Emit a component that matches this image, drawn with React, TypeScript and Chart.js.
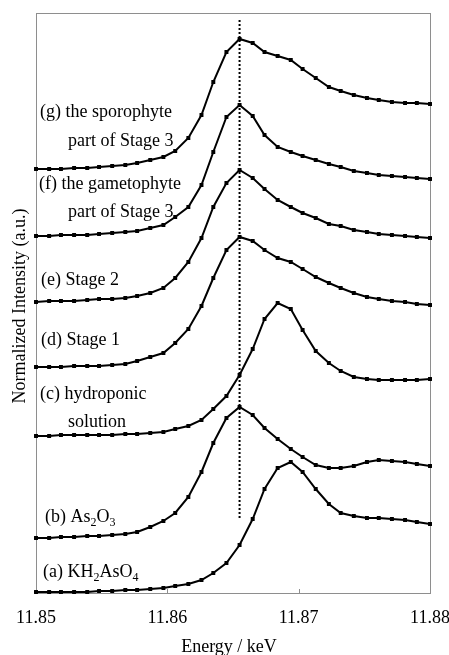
import React, { useEffect, useRef } from "react";
import { Chart, registerables } from "chart.js";

Chart.register(...registerables);

// Energy axis (keV), one value per measured point
const energies = [
  11.85, 11.851, 11.8519, 11.8529, 11.8539, 11.8548, 11.8558, 11.8568,
  11.8577, 11.8587, 11.8597, 11.8606, 11.8616, 11.8626, 11.8635, 11.8645,
  11.8655, 11.8665, 11.8674, 11.8684, 11.8694, 11.8703, 11.8713, 11.8723,
  11.8732, 11.8742, 11.8752, 11.8761, 11.8771, 11.8781, 11.879, 11.88,
];

// Normalized intensities (stacked, offset included)
const seriesA = [0.01, 0.01, 0.01, 0.01, 0.01, 0.02, 0.02, 0.03, 0.03, 0.04, 0.05, 0.07, 0.09, 0.13, 0.2, 0.3, 0.48, 0.74, 1.04, 1.25, 1.31, 1.21, 1.04, 0.89, 0.8, 0.77, 0.75, 0.75, 0.74, 0.73, 0.71, 0.69];
const seriesB = [0.55, 0.55, 0.56, 0.56, 0.57, 0.57, 0.58, 0.59, 0.61, 0.66, 0.72, 0.8, 0.96, 1.21, 1.5, 1.75, 1.86, 1.78, 1.65, 1.54, 1.44, 1.36, 1.28, 1.25, 1.25, 1.27, 1.31, 1.33, 1.32, 1.31, 1.29, 1.27];
const seriesC = [1.57, 1.57, 1.58, 1.58, 1.58, 1.58, 1.58, 1.59, 1.59, 1.6, 1.61, 1.64, 1.67, 1.73, 1.84, 1.97, 2.18, 2.44, 2.74, 2.9, 2.84, 2.63, 2.42, 2.3, 2.22, 2.16, 2.14, 2.13, 2.13, 2.13, 2.13, 2.14];
const seriesD = [2.26, 2.26, 2.26, 2.27, 2.27, 2.27, 2.28, 2.29, 2.32, 2.36, 2.4, 2.5, 2.64, 2.87, 3.15, 3.43, 3.56, 3.52, 3.43, 3.35, 3.31, 3.24, 3.16, 3.1, 3.05, 3.0, 2.96, 2.94, 2.92, 2.91, 2.89, 2.88];
const seriesE = [2.91, 2.92, 2.92, 2.92, 2.93, 2.94, 2.94, 2.95, 2.97, 3.0, 3.05, 3.15, 3.31, 3.55, 3.86, 4.1, 4.23, 4.15, 4.04, 3.93, 3.86, 3.8, 3.75, 3.69, 3.67, 3.63, 3.61, 3.59, 3.58, 3.57, 3.56, 3.55];
const seriesF = [3.57, 3.57, 3.58, 3.58, 3.58, 3.59, 3.6, 3.61, 3.62, 3.65, 3.68, 3.76, 3.86, 4.08, 4.41, 4.76, 4.88, 4.77, 4.58, 4.46, 4.41, 4.37, 4.33, 4.29, 4.26, 4.22, 4.2, 4.18, 4.17, 4.16, 4.15, 4.14];
const seriesG = [4.24, 4.24, 4.24, 4.25, 4.25, 4.26, 4.27, 4.28, 4.3, 4.33, 4.36, 4.42, 4.55, 4.78, 5.11, 5.41, 5.54, 5.5, 5.41, 5.37, 5.33, 5.24, 5.15, 5.06, 5.02, 4.98, 4.95, 4.93, 4.91, 4.9, 4.9, 4.89];

const allSeries = [seriesA, seriesB, seriesC, seriesD, seriesE, seriesF, seriesG];

// Reference energy (dotted vertical line)
const refEnergy = 11.8655;
const refRange = [0.75, 5.75];

const xTicks = [11.85, 11.86, 11.87, 11.88];
const xMin = 11.85;
const xMax = 11.88;
const yMin = 0;
const yMax = 5.8;

const xTitle = "Energy / keV";
const yTitle = "Normalized Intensity (a.u.)";

// Series labels: segments [text, isSubscript], anchor in data units (left, baseline)
type Seg = [string, boolean];
const seriesLabels: { segs: Seg[]; x: number; y: number }[] = [
  { segs: [["(g) the sporophyte", false]], x: 11.8503, y: 4.763 },
  { segs: [["part of Stage 3", false]], x: 11.85244, y: 4.47 },
  { segs: [["(f) the gametophyte", false]], x: 11.85023, y: 4.04 },
  { segs: [["part of Stage 3", false]], x: 11.85244, y: 3.76 },
  { segs: [["(e) Stage 2", false]], x: 11.85038, y: 3.08 },
  { segs: [["(d) Stage 1", false]], x: 11.85038, y: 2.48 },
  { segs: [["(c) hydroponic", false]], x: 11.8503, y: 1.94 },
  { segs: [["solution", false]], x: 11.85244, y: 1.663 },
  { segs: [["(b) As", false], ["2", true], ["O", false], ["3", true]], x: 11.85069, y: 0.713 },
  { segs: [["(a) KH", false], ["2", true], ["AsO", false], ["4", true]], x: 11.85053, y: 0.157 },
];

const FONT = "'Liberation Serif', 'Times New Roman', Times, serif";

const overlayPlugin = {
  id: "overlay",
  beforeDatasetsDraw(chart: any) {
    const { ctx, chartArea: ca, scales } = chart;
    ctx.save();
    ctx.strokeStyle = "#8e8e8e";
    ctx.lineWidth = 1;
    ctx.strokeRect(Math.round(ca.left) + 0.5, Math.round(ca.top) + 0.5, Math.round(ca.right - ca.left), Math.round(ca.bottom - ca.top));
    // inward tick marks
    xTicks.forEach((t) => {
      const px = Math.round(scales.x.getPixelForValue(t)) + 0.5;
      ctx.beginPath();
      ctx.moveTo(px, ca.bottom);
      ctx.lineTo(px, ca.bottom - 4);
      ctx.stroke();
    });
    ctx.restore();
  },
  afterDraw(chart: any) {
    const { ctx, chartArea: ca, scales } = chart;
    ctx.save();
    ctx.fillStyle = "#000";
    ctx.textBaseline = "alphabetic";
    // tick labels
    ctx.font = `18px ${FONT}`;
    ctx.textAlign = "center";
    xTicks.forEach((t) => {
      ctx.fillText(t.toFixed(2), scales.x.getPixelForValue(t), ca.bottom + 30);
    });
    // x title
    ctx.fillText(xTitle, (ca.left + ca.right) / 2 - 4, ca.bottom + 59);
    // y title
    ctx.save();
    ctx.translate(25, (ca.top + ca.bottom) / 2 + 3);
    ctx.rotate(-Math.PI / 2);
    ctx.textAlign = "center";
    ctx.fillText(yTitle, 0, 0);
    ctx.restore();
    // series labels
    ctx.textAlign = "left";
    seriesLabels.forEach((lab) => {
      let px = scales.x.getPixelForValue(lab.x);
      const py = scales.y.getPixelForValue(lab.y);
      lab.segs.forEach(([txt, sub]) => {
        ctx.font = sub ? `12px ${FONT}` : `18px ${FONT}`;
        ctx.fillText(txt, px, sub ? py + 4 : py);
        px += ctx.measureText(txt).width;
      });
    });
    ctx.restore();
  },
};

export default function App() {
  const canvasRef = useRef<HTMLCanvasElement | null>(null);

  useEffect(() => {
    if (!canvasRef.current) return;
    const datasets: any[] = allSeries.map((s) => ({
      data: s.map((v, i) => ({ x: energies[i], y: v })),
      borderColor: "#000",
      backgroundColor: "#000",
      borderWidth: 2,
      pointStyle: "rect",
      pointRadius: 2.8,
      pointBorderWidth: 0,
      pointBackgroundColor: "#000",
      tension: 0,
      clip: false,
    }));
    datasets.push({
      data: refRange.map((v) => ({ x: refEnergy, y: v })),
      borderColor: "#000",
      borderWidth: 2,
      borderDash: [2, 2],
      pointRadius: 0,
      tension: 0,
      clip: false,
    });
    const chart = new Chart(canvasRef.current, {
      type: "line",
      data: { datasets },
      options: {
        responsive: false,
        maintainAspectRatio: false,
        animation: false,
        layout: { padding: { left: 36, top: 13, right: 19, bottom: 62 } },
        plugins: { legend: { display: false }, tooltip: { enabled: false } },
        scales: {
          x: { type: "linear", min: xMin, max: xMax, display: false },
          y: { type: "linear", min: yMin, max: yMax, display: false },
        },
      },
      plugins: [overlayPlugin],
    });
    return () => chart.destroy();
  }, []);

  return (
    <div style={{ position: "fixed", left: 0, top: 0, width: 449, height: 655, background: "#fff" }}>
      <canvas ref={canvasRef} width={449} height={655} style={{ display: "block" }} />
    </div>
  );
}
